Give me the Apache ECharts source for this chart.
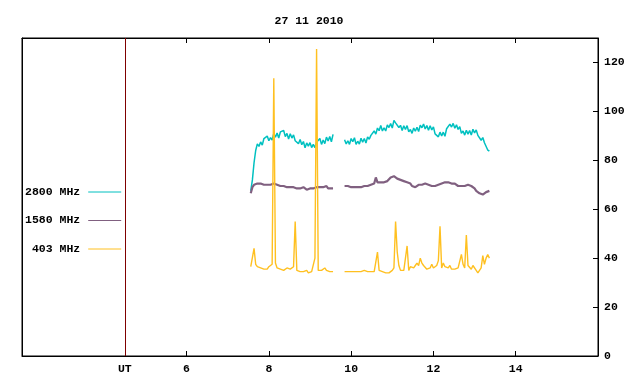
<!DOCTYPE html>
<html>
<head>
<meta charset="utf-8">
<script src="https://cdn.jsdelivr.net/npm/echarts@6/dist/echarts.min.js"></script>
<style>
html,body{margin:0;padding:0;background:#fff;}
#chart{width:640px;height:384px;}
</style>
</head>
<body>
<div id="chart"></div>
<script>
// Sampling grid (hours UT)
const T_START = 7.56;
const T_STEP = 0.04;

const TITLE = '27 11 2010';
const SERIES_NAMES = ['2800 MHz', '1580 MHz', '403 MHz'];
const X_TICKS = [6, 8, 10, 12, 14];
const Y_TICKS = [0, 20, 40, 60, 80, 100, 120];
const UT_POS = 4.5;

// 2800 MHz flux (sfu)
const f2800 = [
 67.5,72,79,84,86.7,85.7,87.5,86.2,88.9,88.1,
 89.9,88.0,89.3,88.3,91.0,89.4,91.2,89.1,91.6,90.8,
 92.2,89.7,91.0,88.7,90.9,89.1,90.4,88.0,88.8,86.8,
 88.5,86.4,87.7,85.1,87.1,85.8,87.2,85.2,86.5,85.2,
 87.4,86.6,88.9,86.5,88.3,86.8,89.5,87.9,89.7,87.6,
 90.6,null,null,null,null,null,null,88.4,86.7,88.0,
 86.5,88.9,87.6,89.2,86.5,87.8,86.6,89.0,87.4,88.9,
 87.1,89.6,88.6,90.2,90.2,92.0,90.7,93.2,92.1,94.2,
 92.0,93.3,92.0,94.5,93.4,95.0,93.2,96.3,95.3,96.0,
 93.4,94.3,92.2,94.1,92.6,94.2,91.6,92.6,91.0,93.2,
 91.9,93.5,91.8,94.4,93.3,94.8,92.8,94.2,92.3,94.1,
 92.4,93.7,90.8,91.6,89.6,91.5,90.0,91.5,89.8,92.9,
 92.6,94.8,93.6,95.1,93.1,94.5,92.6,93.8,91.0,92.0,
 90.3,92.3,90.7,92.2,90.3,92.7,91.2,92.4,90.2,90.8,
 88.2,89.3,87.2,87.9,84.2,83.8
];

// 1580 MHz flux (sfu)
const f1580 = [
 66.5,69,70,69.5,70.5,70,70.5,71,70,70.5,
 70,70.5,70,70.5,70.5,71,70,69.5,69.5,69,
 69.5,69,69,68.5,69,68.5,69,68.5,68.5,68,
 68.5,68.5,69,68.5,68,68.5,68.5,69,68.5,68.5,
 69,68.5,69,69.5,69,69,69.5,68.5,69,68.5,
 68.5,null,null,null,null,null,null,69.5,70,69.5,
 69.5,69,69,69,68.5,69,68.5,69,69,69.5,
 69,69.5,69.5,70,70.5,70.5,73,71,71,71,
 71,71,71.5,71.5,72,73,73.5,73.5,73,72.5,
 72,72,71.5,71.5,71,71,70.5,70.5,69.5,69,
 69,69.5,70,69.5,70,70,70.5,70,70,69.5,
 69.5,69.5,69.5,69.5,70,70,70.5,70.5,71,71,
 71,71,70.5,70.5,70.5,70,69.5,69.5,69.5,69.5,
 69.5,69.5,70,69.5,69.5,69,68.5,67.5,67,66.5,
 66,66,66.5,67,67.5,67.5
];

// 403 MHz flux (sfu)
const f403 = [
 36.5,37,44,37.5,36.5,36,36,35.5,35.5,36,
 35.5,36.5,37,37.5,113.5,38,36,35.5,35.5,35,
 35,35.5,36,35.5,35.5,35,36.5,55,35,34.5,
 34.5,34,34.5,34,35,34,34.5,34.5,35,40,
 125.5,35,35.5,35,35.5,36,35,35,34.5,34.5,
 34.5,null,null,null,null,null,null,34.5,34.5,34.5,
 34.5,34.5,35,34.5,34.5,34.5,34.5,34.5,34.5,35,
 34.5,34.5,34.5,34.5,35,34.5,35,42.5,35,35,
 34.5,34.5,34,34,34,34.5,35,36,55,42.5,
 37,35,34.5,35,35,45,35,36.5,37,36,
 37,38,37,40,38,37,36.5,35.5,35,36,
 37.5,36,35.5,37,39,53,36,38,36.5,37,
 36,37,35.5,35,35.5,35,36,35.5,41.5,37.5,
 36,49.5,37,36.5,35.5,37,36.5,35,34,34.5,
 36,41,37.5,40,41.5,40
];

const FONT = 'Liberation Mono';
const FS = 11.5;
const COLORS = ['#00c0c0', '#806080', '#ffc020'];

function toPairs(vals) {
  return vals.map((v, i) => [+(T_START + i * T_STEP).toFixed(2), v == null ? '-' : v]);
}

const chart = echarts.init(document.getElementById('chart'), null, {renderer: 'canvas'});
const txt = {fontFamily: FONT, fontWeight: 'bold', fontSize: FS, color: '#000'};

const option = {
  animation: false,
  backgroundColor: '#fff',
  title: {
    text: TITLE, left: 304, top: 10, textAlign: 'center',
    textStyle: Object.assign({}, txt)
  },
  grid: {left: 22, right: 42, top: 38, bottom: 28, show: true, borderColor: '#000', borderWidth: 1, containLabel: false},
  legend: {
    orient: 'vertical', left: 20, top: 181, align: 'right',
    itemWidth: 33, itemHeight: 13, itemGap: 16.5,
    data: SERIES_NAMES,
    formatter: n => n.padStart(8, ' '),
    itemStyle: {opacity: 0},
    lineStyle: {width: 1},
    textStyle: Object.assign({padding: [0, 3, 0, 0]}, txt)
  },
  xAxis: [
    {
      type: 'value', min: 2, max: 16, position: 'bottom',
      axisLine: {show: true, onZero: false, lineStyle: {color: '#000', width: 1}},
      axisTick: {show: true, inside: true, length: 5, customValues: X_TICKS, lineStyle: {color: '#000'}},
      axisLabel: {customValues: [UT_POS].concat(X_TICKS), formatter: v => (v === UT_POS ? 'UT' : String(v)), margin: 7,
        fontFamily: FONT, fontWeight: 'bold', fontSize: FS, color: '#000'},
      splitLine: {show: false}
    },
    {
      type: 'value', min: 2, max: 16, position: 'top',
      axisLine: {show: true, onZero: false, lineStyle: {color: '#000', width: 1}},
      axisTick: {show: true, inside: true, length: 5, customValues: X_TICKS, lineStyle: {color: '#000'}},
      axisLabel: {show: false},
      splitLine: {show: false}
    }
  ],
  yAxis: [
    {
      type: 'value', min: 0, max: 130, position: 'right',
      axisLine: {show: true, onZero: false, lineStyle: {color: '#000', width: 1}},
      axisTick: {show: true, inside: true, length: 5, customValues: Y_TICKS, lineStyle: {color: '#000'}},
      axisLabel: {customValues: Y_TICKS, margin: 6, fontFamily: FONT, fontWeight: 'bold', fontSize: FS, color: '#000'},
      splitLine: {show: false}
    },
    {
      type: 'value', min: 0, max: 130, position: 'left',
      axisLine: {show: true, onZero: false, lineStyle: {color: '#000', width: 1}},
      axisTick: {show: false}, axisLabel: {show: false}, splitLine: {show: false}
    }
  ],
  series: [
    {
      name: SERIES_NAMES[0], type: 'line', xAxisIndex: 0, yAxisIndex: 0,
      data: toPairs(f2800), symbol: 'none', color: COLORS[0],
      lineStyle: {width: 1.5, color: COLORS[0]},
      markLine: {
        silent: true, symbol: 'none', label: {show: false},
        lineStyle: {color: '#7f0000', width: 1, type: 'solid'},
        data: [{xAxis: UT_POS}]
      }
    },
    {
      name: SERIES_NAMES[1], type: 'line', xAxisIndex: 0, yAxisIndex: 0,
      data: toPairs(f1580), symbol: 'none', color: COLORS[1],
      lineStyle: {width: 2.2, color: COLORS[1]}
    },
    {
      name: SERIES_NAMES[2], type: 'line', xAxisIndex: 0, yAxisIndex: 0,
      data: toPairs(f403), symbol: 'none', color: COLORS[2],
      lineStyle: {width: 1.4, color: COLORS[2]}
    }
  ]
};
chart.setOption(option);
</script>
</body>
</html>
